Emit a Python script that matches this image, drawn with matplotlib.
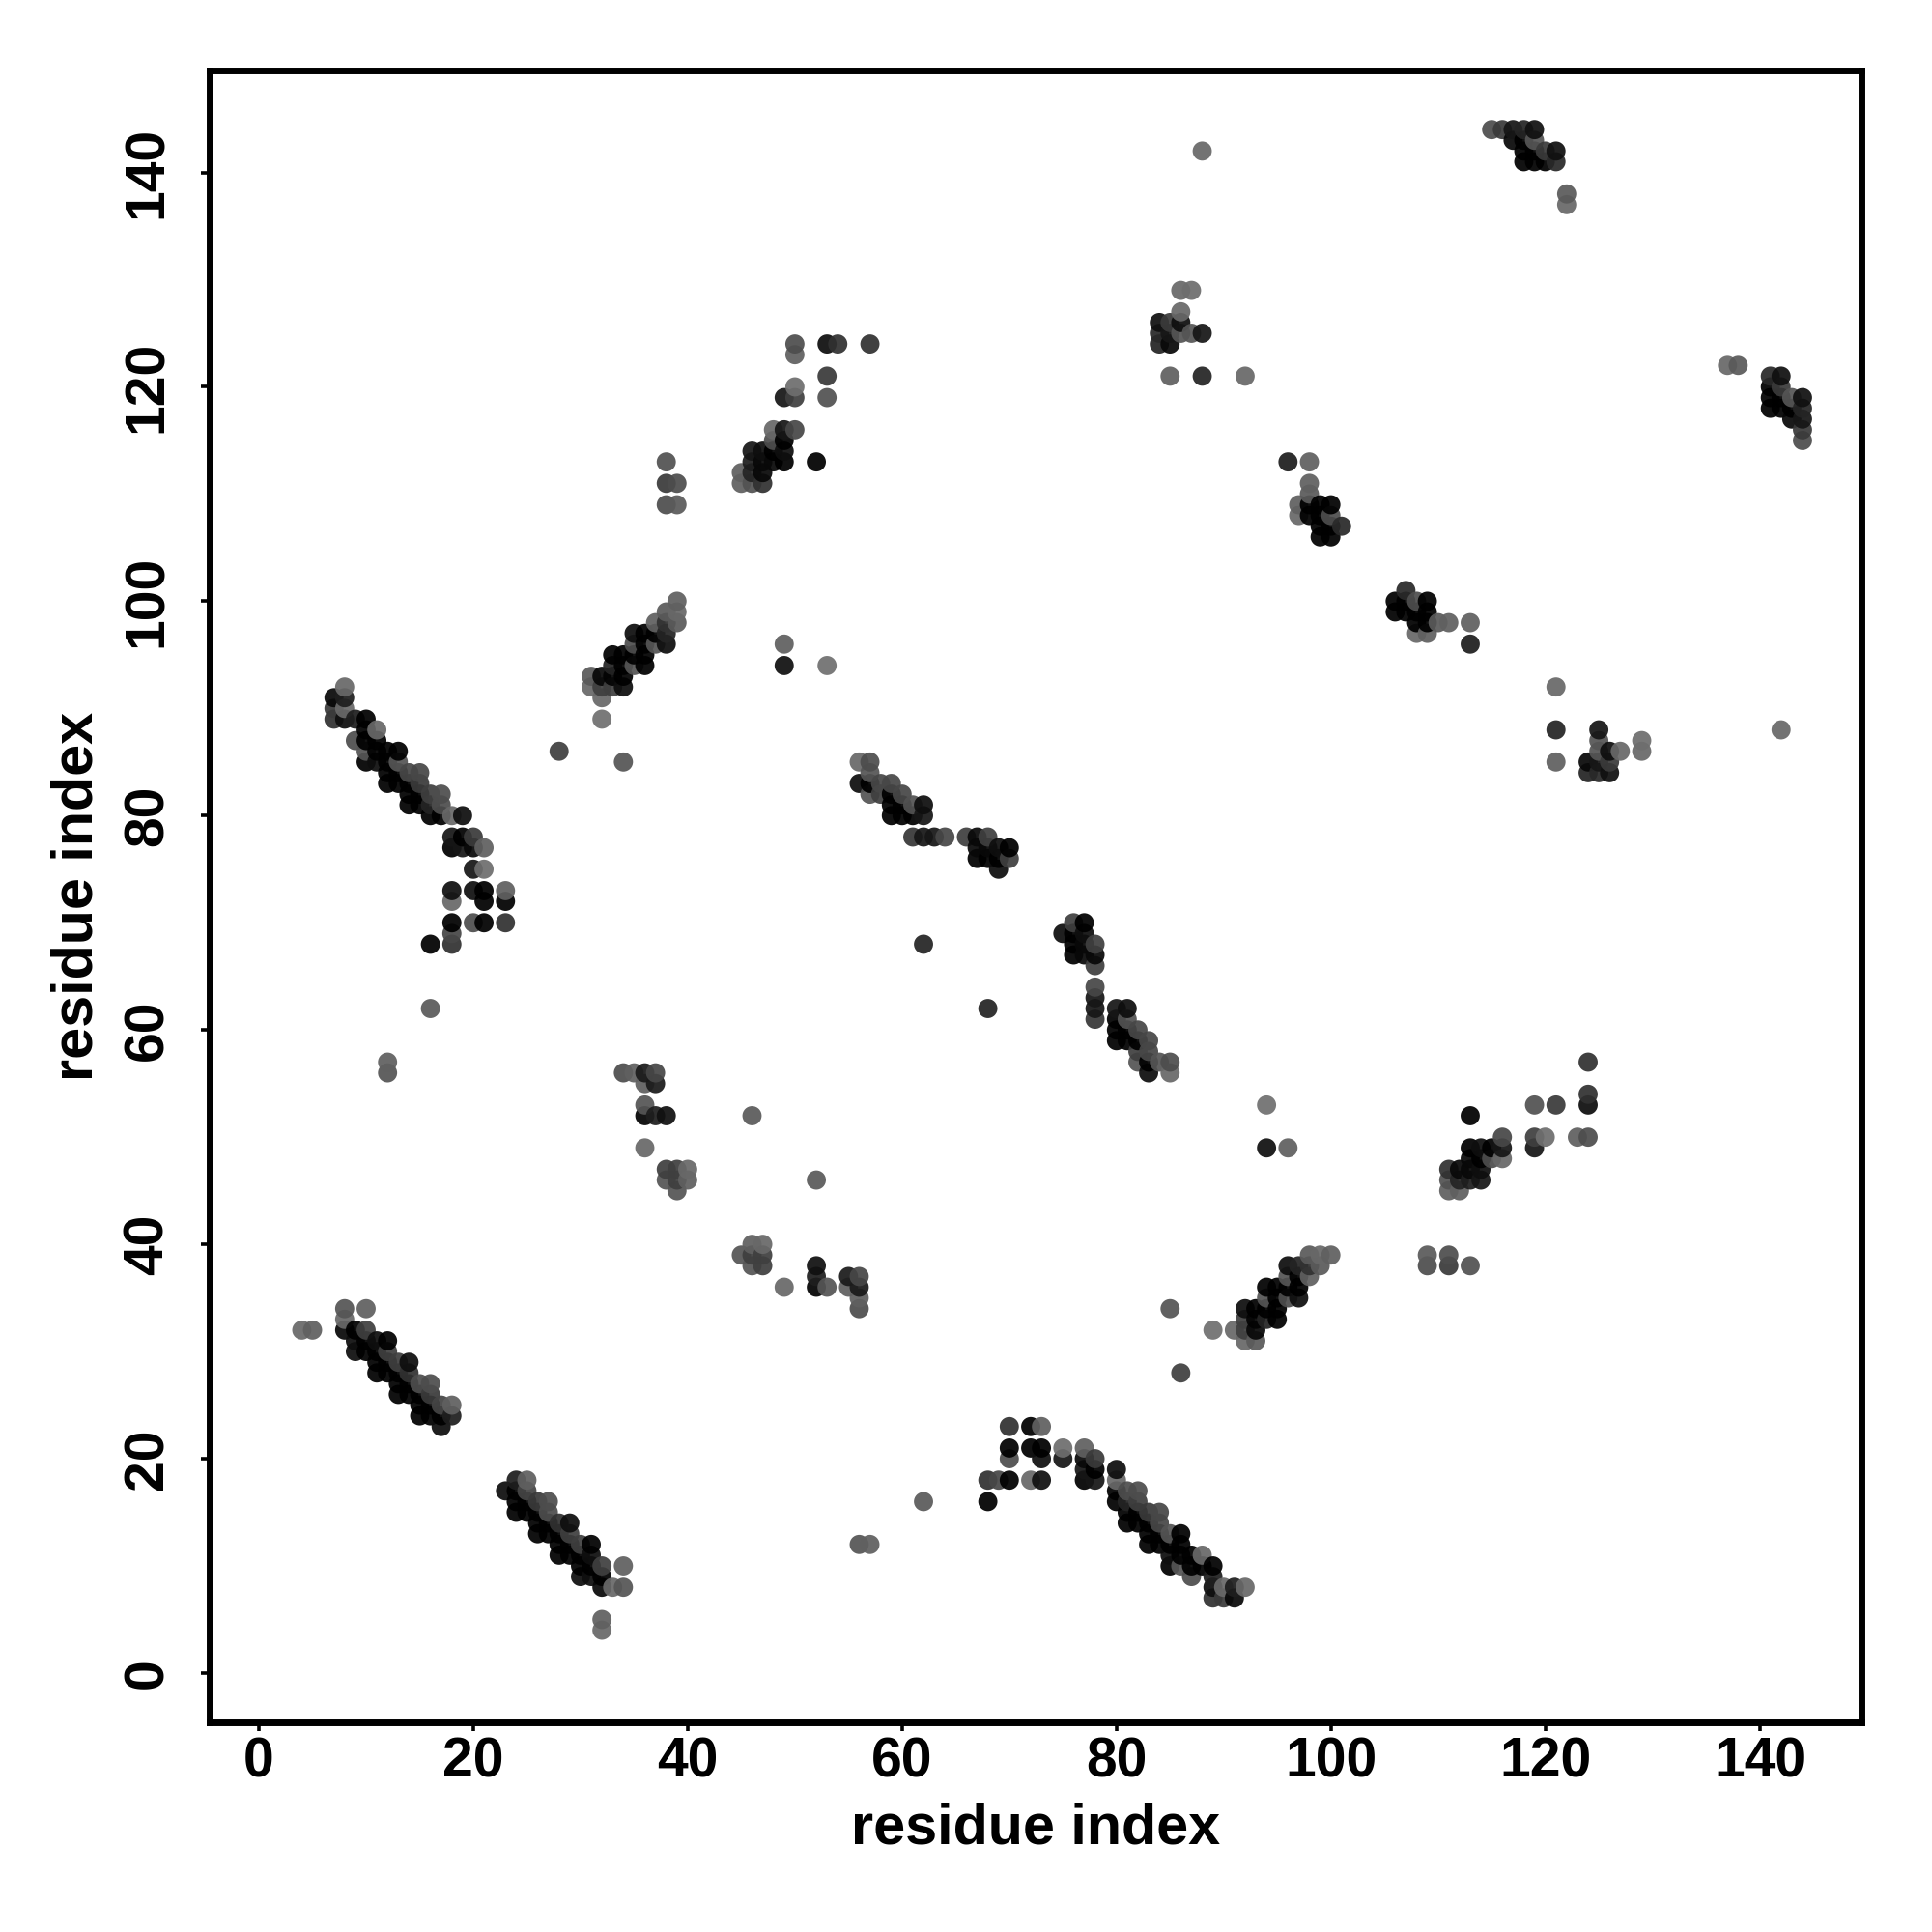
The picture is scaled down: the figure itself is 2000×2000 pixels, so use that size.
import matplotlib
matplotlib.use('Agg')
import matplotlib.pyplot as plt

# contacts as (residue i, residue j, grey level), the map is symmetric so only i < j is listed
strand_a = [
    (4,32,.45),(5,32,.42),(8,34,.38),(8,33,.45),(8,32,.1),(10,34,.42),(9,32,.05),(10,32,.3),
    (9,31,.12),(9,30,.12),(10,31,.03),(10,30,.03),(11,31,.12),(11,30,.03),(11,29,.03),(12,31,.03),
    (12,30,.3),(11,28,.04),(12,28,.04),(12,29,.03),(13,29,.3),(14,29,.12),(14,28,.25),(13,28,.03),
    (13,26,.04),(14,26,.04),(13,27,.03),(14,27,.03),(15,27,.35),(16,27,.35),(16,26,.28),(15,26,.03),
    (15,24,.04),(16,24,.04),(15,25,.03),(16,25,.03),(17,25,.32),(18,25,.42),(18,24,.18),(17,24,.03),
    (17,23,.12),
]
strand_b = [
    (8,92,.45),(7,91,.1),(8,91,.18),(7,90,.28),(8,90,.45),(7,89,.25),(8,89,.12),(9,89,.18),
    (10,89,.07),(11,88,.45),(10,88,.04),(10,87,.04),(9,87,.35),(11,87,.03),(10,86,.38),(10,85,.05),
    (11,86,.03),(11,85,.12),(12,86,.03),(13,86,.03),(13,85,.38),(12,85,.03),(12,84,.03),(12,83,.03),
    (13,84,.03),(13,83,.03),(14,84,.33),(15,84,.33),(15,83,.28),(14,83,.03),(14,82,.03),(14,81,.03),
    (15,82,.03),(15,81,.03),(16,82,.3),(17,82,.35),(16,81,.2),(17,81,.35),(16,80,.03),(17,80,.03),
    (18,80,.45),(19,80,.12),(18,78,.15),(19,78,.05),(20,78,.28),(18,77,.05),(19,77,.15),(20,77,.1),
    (21,77,.42),(20,75,.15),(21,75,.47),(18,73,.13),(18,72,.45),(20,73,.13),(21,73,.02),(21,72,.05),
    (23,73,.42),(23,72,.07),(18,70,.03),(18,69,.33),(18,68,.25),(20,70,.35),(21,70,.03),(23,70,.25),
    (16,68,.05),(16,62,.4),(12,57,.42),(12,56,.38),
]
strand_c = [
    (28,86,.3),(34,85,.38),(39,100,.42),(38,99,.4),(39,99,.45),(37,98,.42),(38,98,.25),(39,98,.4),
    (35,97,.12),(36,97,.05),(37,97,.03),(38,97,.2),(35,96,.35),(36,96,.03),(37,96,.38),(38,96,.12),
    (33,95,.07),(34,95,.03),(35,95,.03),(36,95,.03),(33,94,.2),(34,94,.03),(35,94,.38),(36,94,.03),
    (31,93,.4),(32,93,.1),(33,93,.08),(34,93,.03),(31,92,.45),(32,92,.3),(33,92,.3),(34,92,.12),
    (32,91,.45),(32,89,.48),(49,96,.42),(49,94,.13),(53,94,.48),
]
strand_d = [
    (50,124,.35),(50,123,.42),(53,124,.12),(54,124,.25),(57,124,.25),(53,121,.28),(53,119,.37),
    (50,120,.47),(49,119,.15),(50,119,.3),(48,116,.45),(49,116,.15),(50,116,.33),(48,115,.35),
    (49,115,.03),(46,114,.15),(47,114,.12),(48,114,.03),(49,114,.12),(46,113,.18),(47,113,.1),
    (48,113,.1),(49,113,.03),(52,113,.07),(45,112,.42),(46,112,.2),(47,112,.1),(45,111,.42),
    (46,111,.37),(47,111,.25),(38,113,.37),(38,111,.28),(39,111,.35),(38,109,.35),(39,109,.4),
]
strand_e = [
    (34,56,.35),(35,56,.42),(36,56,.17),(37,56,.33),(36,55,.42),(37,55,.17),(36,53,.38),(36,52,.08),
    (37,52,.18),(38,52,.13),(36,49,.45),(38,47,.3),(39,47,.3),(40,47,.45),(38,46,.38),(39,46,.3),
    (40,46,.42),(39,45,.38),(46,52,.4),
]
strand_f = [
    (56,85,.45),(57,85,.35),(57,84,.38),(56,83,.12),(57,83,.05),(58,83,.33),(59,83,.33),(57,82,.38),
    (58,82,.3),(59,82,.05),(60,82,.33),(59,81,.03),(60,81,.03),(61,81,.37),(62,81,.12),(59,80,.03),
    (60,80,.03),(61,80,.03),(62,80,.15),(61,78,.27),(62,78,.15),(63,78,.15),(64,78,.33),
    (66,78,.3),(67,78,.1),(68,78,.3),(67,77,.1),(68,77,.1),(69,77,.12),(70,77,.07),(67,76,.05),
    (68,76,.05),(69,76,.03),(70,76,.3),(69,75,.12),(62,68,.2),
]
strand_g = [
    (96,113,.18),(98,113,.42),(98,111,.42),(98,110,.4),(97,109,.42),(97,108,.45),(98,109,.05),
    (98,108,.07),(99,109,.07),(100,109,.07),(99,108,.05),(100,108,.35),(99,107,.03),(100,107,.03),
    (101,107,.22),(99,106,.06),(100,106,.06),
]
strand_h = [
    (84,124,.2),(85,124,.1),(84,125,.22),(85,125,.15),(86,125,.38),(87,125,.38),(88,125,.15),
    (84,126,.13),(85,126,.28),(86,126,.12),(86,127,.45),(86,129,.45),(87,129,.47),(85,121,.42),
    (88,121,.2),(92,121,.45),(88,142,.45),
]
strand_i = [
    (115,144,.35),(116,144,.28),(117,144,.15),(118,144,.2),(119,144,.13),(117,143,.1),(118,143,.03),
    (119,143,.38),(118,142,.02),(119,142,.03),(120,142,.28),(121,142,.13),(118,141,.02),(119,141,.02),
    (120,141,.02),(121,141,.22),(122,138,.4),(122,137,.45),
]

tick_values = [0, 20, 40, 60, 80, 100, 120, 140]

contacts = (strand_a + strand_b + strand_c + strand_d + strand_e + strand_f
            + strand_g + strand_h + strand_i)

# both halves of the map, drawn left to right and bottom to top
points = sorted([(i, j, g) for i, j, g in contacts] + [(j, i, g) for i, j, g in contacts])
xs = [p[0] for p in points]
ys = [p[1] for p in points]
ALPHA = 0.93
greys = [max(p[2] - 0.07, 0) / ALPHA for p in points]
colors = [(g, g, g, ALPHA) for g in greys]

plt.rcParams['font.family'] = ['Liberation Sans', 'DejaVu Sans']
plt.rcParams['font.weight'] = 'bold'

fig = plt.figure(figsize=(10, 10), dpi=200)
ax = fig.add_axes([217 / 2000, 1 - 1783 / 2000, 1710 / 2000, 1710.3 / 2000])

ax.scatter(xs, ys, s=51, c=colors, linewidths=0)

ax.set_xlim(-4.6, 149.5)
ax.set_ylim(-4.6, 149.54)
ax.set_xticks(tick_values)
ax.set_yticks(tick_values)
ax.tick_params(axis='x', length=3.2, width=1.3, labelsize=20.5, pad=2)
ax.tick_params(axis='y', length=3.2, width=1.3, labelsize=20.5, pad=10)
for label in ax.get_yticklabels():
    label.set_rotation(90)
    label.set_va('center')

for spine in ax.spines.values():
    spine.set_linewidth(2.5)

ax.set_xlabel('residue index', fontsize=21.4, fontweight='bold')
ax.set_ylabel('residue index', fontsize=21.4, fontweight='bold')
ax.xaxis.set_label_coords(0.5, -0.048)
ax.yaxis.set_label_coords(-0.064, 0.5)

fig.savefig('out.png', dpi=200)
